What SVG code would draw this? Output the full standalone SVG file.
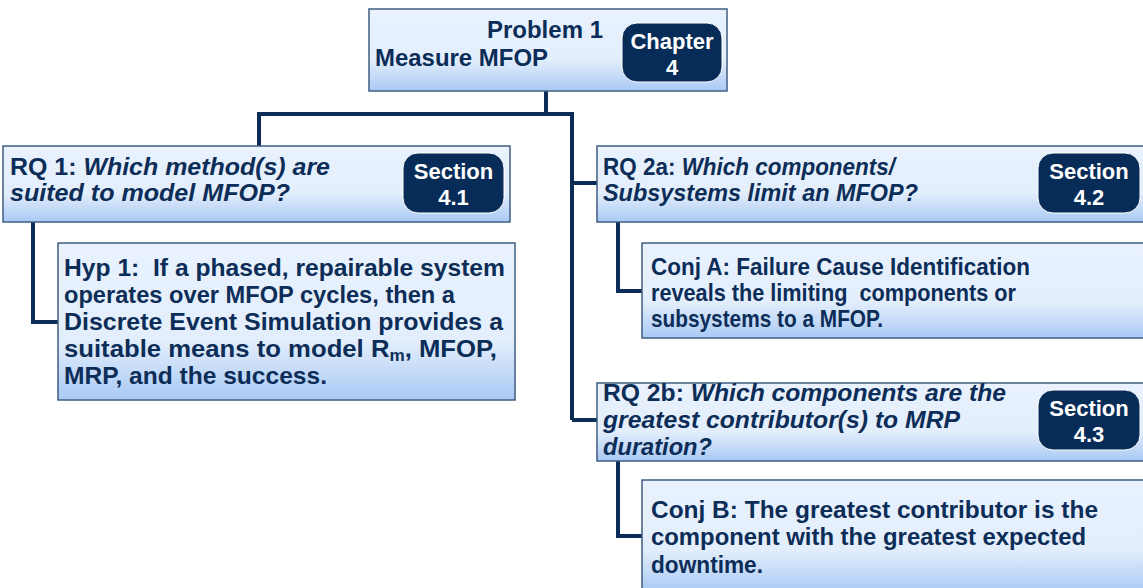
<svg xmlns="http://www.w3.org/2000/svg" width="1143" height="588" viewBox="0 0 1143 588">
<defs>
<linearGradient id="bg" x1="0" y1="0" x2="0" y2="1">
<stop offset="0" stop-color="#E9F2FE"/>
<stop offset="0.62" stop-color="#E3EEFC"/>
<stop offset="1" stop-color="#A9C9F5"/>
</linearGradient>
<style>
.box{fill:url(#bg);stroke:#3F5E80;stroke-width:1.5}
.badge{fill:#062C57;stroke:#FFFFFF;stroke-width:1}
.t{font-family:"Liberation Sans",Arial,sans-serif;font-weight:bold;font-size:24px;fill:#0C2D57;white-space:pre}
.i{font-style:italic}
.bt{font-family:"Liberation Sans",Arial,sans-serif;font-weight:bold;font-size:22px;fill:#FFFFFF;text-anchor:middle}
.c{fill:none;stroke:#0B2C56;stroke-width:4}
</style>
</defs>
<g id="connectors">
<path class="c" d="M546 91 V114 M259 114 H572 M259 112 V146 M572 112 V420 M572 183 H597 M572 420 H597"/>
<path class="c" d="M33 222 V322 H58"/>
<path class="c" d="M618 222 V291 H642"/>
<path class="c" d="M618 460 V536 H642"/>
</g>
<g id="problem1">
<rect class="box" x="369" y="9" width="358" height="82"/>
<text class="t" x="603" y="38" text-anchor="end">Problem 1</text>
<text class="t" x="375" y="66" textLength="173" lengthAdjust="spacingAndGlyphs">Measure MFOP</text>
<rect class="badge" x="622" y="23" width="100" height="59" rx="15"/>
<text class="bt" x="672" y="49">Chapter</text>
<text class="bt" x="672" y="75">4</text>
</g>
<g id="rq1">
<rect class="box" x="3" y="146" width="507" height="76"/>
<text class="t" x="10" y="175" textLength="320" lengthAdjust="spacingAndGlyphs">RQ 1: <tspan class="i">Which method(s) are</tspan></text>
<text class="t i" x="10" y="201" textLength="280" lengthAdjust="spacingAndGlyphs">suited to model MFOP?</text>
<rect class="badge" x="403" y="153" width="101" height="60" rx="15"/>
<text class="bt" x="453.5" y="179">Section</text>
<text class="bt" x="453.5" y="205">4.1</text>
</g>
<g id="hyp1">
<rect class="box" x="58" y="243" width="457" height="157"/>
<text class="t" x="64" y="276" textLength="441" lengthAdjust="spacingAndGlyphs">Hyp 1:  If a phased, repairable system</text>
<text class="t" x="64" y="303" textLength="391" lengthAdjust="spacingAndGlyphs">operates over MFOP cycles, then a</text>
<text class="t" x="64" y="330" textLength="439" lengthAdjust="spacingAndGlyphs">Discrete Event Simulation provides a</text>
<text class="t" x="64" y="357" textLength="433" lengthAdjust="spacingAndGlyphs">suitable means to model R<tspan font-size="16" dy="4">m</tspan><tspan dy="-4">, MFOP,</tspan></text>
<text class="t" x="64" y="384" textLength="263" lengthAdjust="spacingAndGlyphs">MRP, and the success.</text>
</g>
<g id="rq2a">
<rect class="box" x="597" y="146" width="550" height="76"/>
<text class="t" x="603" y="175" textLength="292" lengthAdjust="spacingAndGlyphs">RQ 2a: <tspan class="i">Which components/</tspan></text>
<text class="t i" x="603" y="201" textLength="315" lengthAdjust="spacingAndGlyphs">Subsystems limit an MFOP?</text>
<rect class="badge" x="1038" y="153" width="102" height="60" rx="15"/>
<text class="bt" x="1089" y="179">Section</text>
<text class="bt" x="1089" y="205">4.2</text>
</g>
<g id="conjA">
<rect class="box" x="642" y="243" width="505" height="95"/>
<text class="t" x="651" y="275" textLength="379" lengthAdjust="spacingAndGlyphs">Conj A: Failure Cause Identification</text>
<text class="t" x="651" y="301" textLength="365" lengthAdjust="spacingAndGlyphs">reveals the limiting  components or</text>
<text class="t" x="651" y="327" textLength="232" lengthAdjust="spacingAndGlyphs">subsystems to a MFOP.</text>
</g>
<g id="rq2b">
<rect class="box" x="597" y="383" width="550" height="78"/>
<text class="t" x="603" y="401" textLength="403" lengthAdjust="spacingAndGlyphs">RQ 2b: <tspan class="i">Which components are the</tspan></text>
<text class="t i" x="603" y="428" textLength="357" lengthAdjust="spacingAndGlyphs">greatest contributor(s) to MRP</text>
<text class="t i" x="603" y="455" textLength="109" lengthAdjust="spacingAndGlyphs">duration?</text>
<rect class="badge" x="1038" y="390" width="102" height="60" rx="15"/>
<text class="bt" x="1089" y="416">Section</text>
<text class="bt" x="1089" y="442">4.3</text>
</g>
<g id="conjB">
<rect class="box" x="642" y="480" width="505" height="112"/>
<text class="t" x="651" y="518" textLength="447" lengthAdjust="spacingAndGlyphs">Conj B: The greatest contributor is the</text>
<text class="t" x="651" y="545" textLength="435" lengthAdjust="spacingAndGlyphs">component with the greatest expected</text>
<text class="t" x="651" y="573" textLength="112" lengthAdjust="spacingAndGlyphs">downtime.</text>
</g>
</svg>
